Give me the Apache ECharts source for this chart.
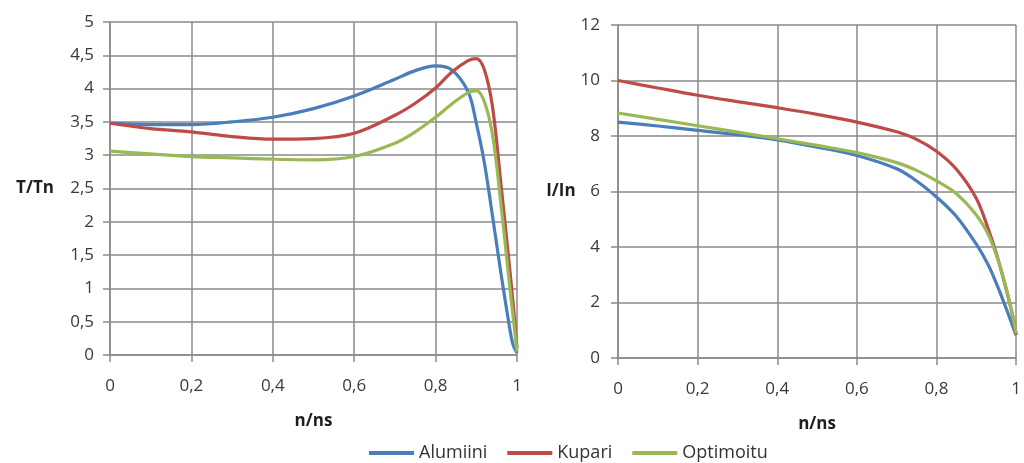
<!DOCTYPE html>
<html>
<head>
<meta charset="utf-8">
<script src="https://cdn.jsdelivr.net/npm/echarts@6/dist/echarts.min.js"></script>
<style>
html,body{margin:0;padding:0;background:#fff;}
#chart{width:1024px;height:463px;}
</style>
</head>
<body>
<div id="chart"></div>
<script>
// ---- data ----
const seriesNames = ['Alumiini', 'Kupari', 'Optimoitu'];
const torqueX = [0, 0.1, 0.2, 0.3, 0.4, 0.5, 0.6, 0.7, 0.75, 0.8, 0.84, 0.88, 0.9, 0.92, 0.94, 0.96, 0.98, 0.99, 1];
const torqueAlumiini = [3.48, 3.46, 3.46, 3.5, 3.57, 3.7, 3.89, 4.14, 4.27, 4.34, 4.28, 3.95, 3.48, 2.88, 2.08, 1.25, 0.48, 0.16, 0.03];
const torqueKupari   = [3.48, 3.4, 3.35, 3.28, 3.24, 3.25, 3.33, 3.6, 3.78, 4.01, 4.25, 4.42, 4.45, 4.28, 3.72, 2.6, 1.42, 0.8, 0.1];
const torqueOptimoitu= [3.06, 3.02, 2.98, 2.96, 2.94, 2.93, 2.98, 3.18, 3.35, 3.57, 3.77, 3.94, 3.97, 3.8, 3.3, 2.3, 1.15, 0.6, 0.05];

const currentX = [0, 0.1, 0.2, 0.3, 0.4, 0.5, 0.6, 0.7, 0.75, 0.8, 0.85, 0.9, 0.93, 0.95, 0.97, 0.99, 1];
const currentAlumiini = [8.5, 8.36, 8.2, 8.05, 7.86, 7.6, 7.3, 6.82, 6.38, 5.8, 5.1, 4.1, 3.35, 2.7, 1.98, 1.2, 0.82];
const currentKupari   = [10.0, 9.73, 9.47, 9.24, 9.02, 8.78, 8.5, 8.15, 7.88, 7.45, 6.8, 5.75, 4.65, 3.78, 2.75, 1.6, 0.85];
const currentOptimoitu= [8.83, 8.6, 8.37, 8.14, 7.9, 7.66, 7.4, 7.04, 6.76, 6.38, 5.92, 5.15, 4.45, 3.72, 2.8, 1.6, 0.88];

const leftYTitle = 'T/Tn';
const rightYTitle = 'I/In';
const xTitle = 'n/ns';

const colors = ['#4a7ebb', '#be4b48', '#98b954'];

// ---- helpers ----
function pairs(xs, ys) { return xs.map((x, i) => [x, ys[i]]); }
function comma(v) {
  const r = Math.round(v * 10) / 10;
  return String(r).replace('.', ',');
}
const FONT = 'Open Sans';
const gridColor = '#8a8a8a';
const labelColor = '#3a3a3a';

function xAxisCfg(gridIndex) {
  return {
    type: 'value', gridIndex, min: 0, max: 1, interval: 0.2,
    name: xTitle, nameLocation: 'middle', nameGap: 58,
    nameTextStyle: { fontFamily: FONT, fontWeight: 'bold', fontSize: 17, color: '#1e1e1e' },
    axisLine: { show: true, lineStyle: { color: gridColor, width: 1.5 } },
    axisTick: { show: true, length: 7, lineStyle: { color: gridColor, width: 1.5 } },
    splitLine: { show: true, lineStyle: { color: gridColor, width: 1.5 } },
    axisLabel: { formatter: comma, fontFamily: FONT, fontSize: 17, color: labelColor, margin: 23 }
  };
}
function yAxisCfg(gridIndex, max, interval, name, nameGap, margin) {
  return {
    type: 'value', gridIndex, min: 0, max, interval,
    name, nameLocation: 'middle', nameRotate: 0, nameGap,
    nameTextStyle: { fontFamily: FONT, fontWeight: 'bold', fontSize: 17, color: '#1e1e1e' },
    axisLine: { show: true, lineStyle: { color: gridColor, width: 1.5 } },
    axisTick: { show: true, length: 7, lineStyle: { color: gridColor, width: 1.5 } },
    splitLine: { show: true, lineStyle: { color: gridColor, width: 1.5 } },
    axisLabel: { formatter: comma, fontFamily: FONT, fontSize: 17, color: labelColor, margin }
  };
}
function lineSeries(name, idx, data, gi) {
  return {
    name, type: 'line', xAxisIndex: gi, yAxisIndex: gi,
    data, smooth: 0.35, showSymbol: false, symbol: 'none',
    lineStyle: { width: 3.2, color: colors[idx] }, itemStyle: { color: colors[idx] },
    animation: false
  };
}

const chart = echarts.init(document.getElementById('chart'));
chart.setOption({
  backgroundColor: '#fff',
  animation: false,
  grid: [
    { left: 110, right: 507, top: 22, bottom: 108 },
    { left: 618, right: 4, top: 25, bottom: 105 }
  ],
  legend: {
    data: seriesNames, left: 364, top: 439, icon: 'rect',
    itemWidth: 45, itemHeight: 4, itemGap: 20,
    textStyle: { fontFamily: FONT, fontSize: 18, color: '#333' }
  },
  xAxis: [xAxisCfg(0), xAxisCfg(1)],
  yAxis: [
    yAxisCfg(0, 5, 0.5, leftYTitle, 56, 16),
    yAxisCfg(1, 12, 2, rightYTitle, 42, 18)
  ],
  series: [
    lineSeries(seriesNames[0], 0, pairs(torqueX, torqueAlumiini), 0),
    lineSeries(seriesNames[1], 1, pairs(torqueX, torqueKupari), 0),
    lineSeries(seriesNames[2], 2, pairs(torqueX, torqueOptimoitu), 0),
    lineSeries(seriesNames[0], 0, pairs(currentX, currentAlumiini), 1),
    lineSeries(seriesNames[1], 1, pairs(currentX, currentKupari), 1),
    lineSeries(seriesNames[2], 2, pairs(currentX, currentOptimoitu), 1)
  ]
});
</script>
</body>
</html>
